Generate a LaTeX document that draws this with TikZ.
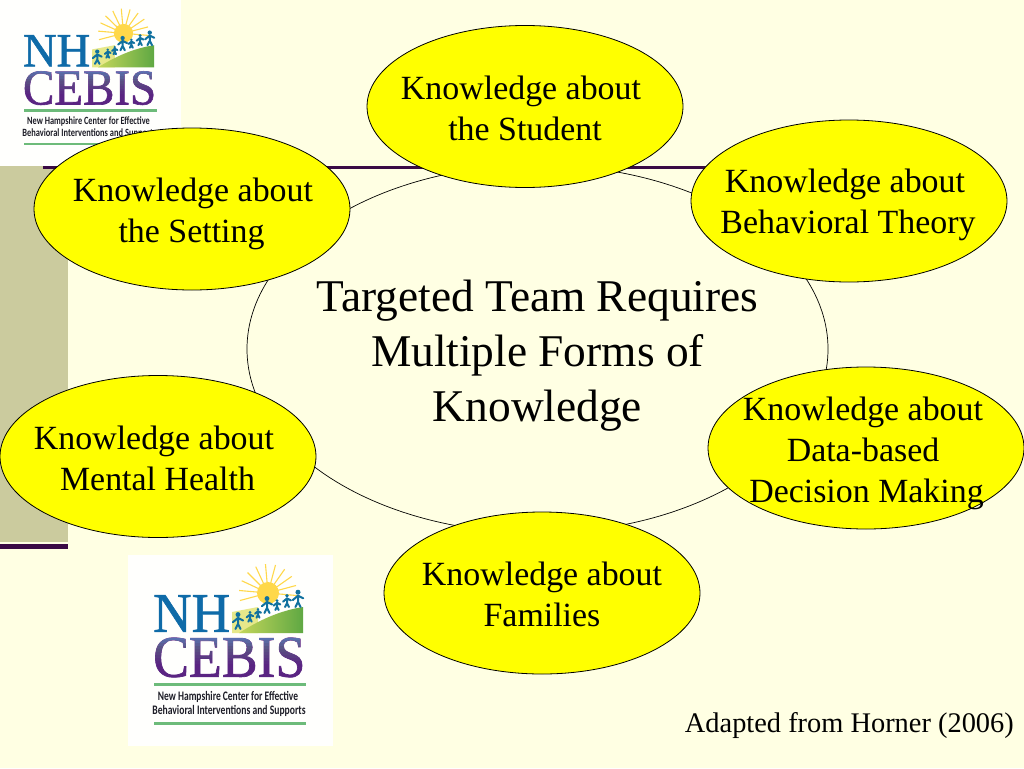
\documentclass[tikz,border=0pt]{standalone}
\usepackage{fontspec}
\setmainfont{Liberation Serif}
\newfontfamily\logofont{Carlito}
\newfontfamily\logoserif[FakeBold=1.2]{Liberation Serif}
\definecolor{bgc}{HTML}{FFFFE3}
\definecolor{sidec}{HTML}{CBCB9E}
\definecolor{darkline}{HTML}{3A0A45}
\definecolor{logoblue}{HTML}{0F6BA8}
\definecolor{logogreen}{HTML}{6DBB7A}
\definecolor{logowhite}{HTML}{FFFFFD}
\definecolor{hillc}{HTML}{5FA843}
\definecolor{hilll}{HTML}{C4D65A}
\definecolor{skyc}{HTML}{E6E88A}
\definecolor{sunc}{HTML}{FFD84A}
\definecolor{figc}{HTML}{11719F}
\definecolor{textgray}{HTML}{1E1E28}
\definecolor{bubblec}{HTML}{FFFF00}
\definecolor{cebbase}{HTML}{5A2482}
\definecolor{cebtop}{HTML}{3F6FB0}
\tikzset{
  bubble/.style={draw=black,line width=0.8pt,fill=bubblec,ellipse,inner sep=0pt,minimum width=316pt,minimum height=162pt},
  bubbletext/.style={align=center,font=\fontsize{33.9}{41}\selectfont,text=black,inner sep=0pt},
  person/.style={line width=2pt,draw=figc,line cap=round},
}
\usetikzlibrary{shapes.geometric}
\newcommand{\lfig}[3]{%
  \fill[figc] (#1,#2-#3*17) circle[radius=#3*2.9];
  \draw[person] (#1,#2-#3*13) -- (#1,#2-#3*6) (#1,#2-#3*6) -- (#1-#3*3,#2) (#1,#2-#3*6) -- (#1+#3*3,#2)
     (#1-#3*6,#2-#3*8) -- (#1,#2-#3*13) -- (#1+#3*6,#2-#3*10);
}
\newcommand{\logo}[4]{%
  \begin{scope}[shift={(#1,#2)},xscale=#3,yscale=#4]
    \foreach \a in {-15,5,...,195} {
      \draw[sunc,line width=1.1pt] (140,38) -- ++(\a+180:29);
    }
    \fill[sunc] (140,38) circle[radius=11];
    \fill[skyc] (104,78) -- (104,57) -- (130,52) -- (130,78) -- cycle;
    \shade[left color=hilll,right color=hillc] (111,78) .. controls (130,66) and (150,56) .. (175,52) -- (175,78) -- cycle;
    \lfig{110}{74}{0.85}\lfig{122}{66.7}{0.55}\lfig{130}{62.7}{0.5}
    \lfig{139}{58}{0.85}\lfig{149}{55}{0.55}\lfig{159}{52}{0.66}\lfig{170}{52}{0.87}
    \node[transform shape,anchor=west,inner sep=0pt,text=logoblue,xscale=0.95,font=\logoserif\fontsize{56}{56}\selectfont] at (25,58.5) {NH};
    \node[transform shape,anchor=west,inner sep=0pt,text=cebbase,xscale=0.91,font=\logoserif\fontsize{59}{59}\selectfont] at (25,102.5) {CEBIS};
    \foreach \i in {0,...,13} {
      \pgfmathsetmacro{\tone}{100-\i*100/13}
      \fill[cebtop!\tone!black,blend mode=lighten] (24,82+\i*3) rectangle (180,85.2+\i*3);
    }
    \fill[logogreen] (26,127.5) rectangle (178,130.5);
    \fill[logogreen] (26,166.5) rectangle (178,169.5);
    \node[transform shape,inner sep=0pt,text=textgray,xscale=0.73,font=\logofont\bfseries\fontsize{13}{13}\selectfont] at (100,142) {New Hampshire Center for Effective};
    \node[transform shape,inner sep=0pt,text=textgray,xscale=0.74,font=\logofont\bfseries\fontsize{13}{13}\selectfont] at (101,156) {Behavioral Interventions and Supports};
  \end{scope}
}
\begin{document}
\begin{tikzpicture}[x=1pt,y=-1pt]
  \useasboundingbox (0,0) rectangle (1024,768);
  \fill[bgc] (0,0) rectangle (1024,768);
  \fill[sidec] (0,166) rectangle (68,542);
  \fill[darkline] (0,543.5) rectangle (68,548.5);
  \fill[darkline] (43,166) rectangle (720,168.5);
  \fill[logowhite] (0,0) rectangle (181,166);
  \logo{1}{1}{0.875}{0.85}
  \fill[logowhite] (128,555) rectangle (333,746);
  \logo{128}{555}{1}{1}
  \node[draw=black,line width=0.7pt,fill=bgc,ellipse,inner sep=0pt,minimum width=581pt,minimum height=368pt] (centre) at (537.5,349) {};
  \node[align=center,inner sep=0pt,font=\fontsize{45.4}{55}\selectfont] (titletext) at ([yshift=-7pt]centre.center) {Targeted Team Requires\\Multiple Forms of\\Knowledge};
  \node[bubble] (student) at (525,106.5) {};
  \node[bubble] (setting) at (192,209) {};
  \node[bubble] (theory) at (849,201) {};
  \node[bubble] (data) at (866,448) {};
  \node[bubble] (mental) at (158,456.5) {};
  \node[bubble] (families) at (542,593) {};
  \node[bubbletext] (t1) at ([xshift=-4pt,yshift=-2pt]student.center) {Knowledge about\\\hspace{8pt}the Student};
  \node[bubbletext] (t2) at ([xshift=1pt,yshift=-5pt]setting.center) {Knowledge about\\\hspace{-3pt}the Setting};
  \node[bubbletext] (t3) at ([xshift=-1pt,yshift=-4pt]theory.center) {\hspace{-6pt}Knowledge about\\Behavioral Theory};
  \node[bubbletext] (t4) at ([xshift=-3pt,yshift=-5pt]data.center) {Knowledge about\\Data-based\\\hspace{7pt}Decision Making};
  \node[bubbletext] (t5) at ([xshift=-4pt,yshift=-2pt]mental.center) {Knowledge about\\\hspace{7pt}Mental Health};
  \node[bubbletext] (t6) at ([xshift=0pt,yshift=-1pt]families.center) {Knowledge about\\Families};
  \node[inner sep=0pt,anchor=east,font=\fontsize{28.4}{34}\selectfont] (src) at (1014,725.5) {Adapted from Horner (2006)};
\end{tikzpicture}
\end{document}
